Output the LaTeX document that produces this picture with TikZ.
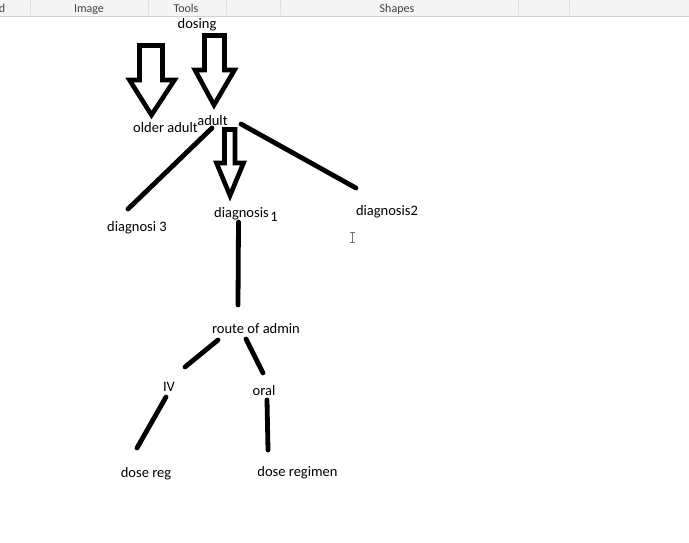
\documentclass[tikz,border=0pt]{standalone}
\usepackage{fontspec}
\setmainfont{Carlito}
\begin{document}
\begin{tikzpicture}[x=1pt,y=-1pt,
  lbl/.style={anchor=base,inner sep=0pt,font=\fontsize{14.5}{17}\selectfont},
  tbl/.style={anchor=base,inner sep=0pt,text=black!75,font=\fontsize{12}{14}\selectfont},
  blockarrow/.style={draw=black,line width=4.6pt,line join=miter,fill=white},
  edge/.style={draw=black,line width=4.8pt,line cap=round},
  sep/.style={draw=black!12,line width=0.8pt}]
\useasboundingbox (0,0) rectangle (689,542);
\fill[white] (0,0) rectangle (689,542);
% toolbar strip
\fill[black!4] (0,0) rectangle (689,16);
\draw[black!18,line width=1pt] (0,16.5) -- (689,16.5);
\foreach \sx in {30,148,226,280,518,569} {\draw[sep] (\sx,0) -- (\sx,15);}
\node[tbl] (tb0) at (2,12) {d};
\node[tbl] (tb1) at (89,12) {Image};
\node[tbl] (tb2) at (186,12) {Tools};
\node[tbl] (tb3) at (397,12) {Shapes};
% block arrows
\draw[blockarrow] (139.5,45.5) -- (162.5,45.5) -- (162.5,80) -- (174.5,80) -- (151.5,115) -- (129.5,80) -- (139.5,80) -- cycle;
\draw[blockarrow] (204.5,35.5) -- (224.5,35.5) -- (224.5,70) -- (234.5,70) -- (214,105) -- (195,70) -- (204.5,70) -- cycle;
\draw[blockarrow] (224.5,129.5) -- (235,129.5) -- (235,163) -- (243.5,163) -- (230,195.5) -- (216.5,163) -- (224.5,163) -- cycle;
% labels
\node[lbl] (dosing) at (197,28) {dosing};
\node[lbl] (older) at (165.5,132) {older adult};
\node[lbl] (adult) at (212.5,125) {adult};
\node[lbl] (dg3) at (137,231) {diagnosi 3};
\node[lbl] (dg1) at (241.5,217) {diagnosis};
\node[lbl] (dg1n) at (274,221) {1};
\node[lbl] (dg2) at (387,215) {diagnosis2};
\node[lbl] (route) at (256,333) {route of admin};
\node[lbl] (iv) at (169,391) {IV};
\node[lbl] (oral) at (264,395) {oral};
\node[lbl] (dreg) at (146,477) {dose reg};
\node[lbl] (dregimen) at (297.5,476) {dose regimen};
% connector end points
\coordinate (a1) at (212,128);
\coordinate (d3) at (128,209);
\coordinate (a2) at (241,124);
\coordinate (d2) at (356,188);
\coordinate (d1b) at (238.5,222);
\coordinate (rt) at (238,305);
\coordinate (r1) at (218,340);
\coordinate (iv1) at (185,367);
\coordinate (r2) at (246,339);
\coordinate (or1) at (263,373);
\coordinate (iv2) at (166,397);
\coordinate (dr1) at (137,448);
\coordinate (or2) at (267,400);
\coordinate (dr2) at (268,450);
\draw[edge] (a1) -- (d3);
\draw[edge] (a2) -- (d2);
\draw[edge] (d1b) -- (rt);
\draw[edge] (r1) -- (iv1);
\draw[edge] (r2) -- (or1);
\draw[edge] (iv2) -- (dr1);
\draw[edge] (or2) -- (dr2);
% text cursor
\draw[black!55,line width=0.9pt] (352,232) -- (352,242) (349.5,232) -- (354.5,232) (349.5,242) -- (354.5,242);
\end{tikzpicture}
\end{document}
